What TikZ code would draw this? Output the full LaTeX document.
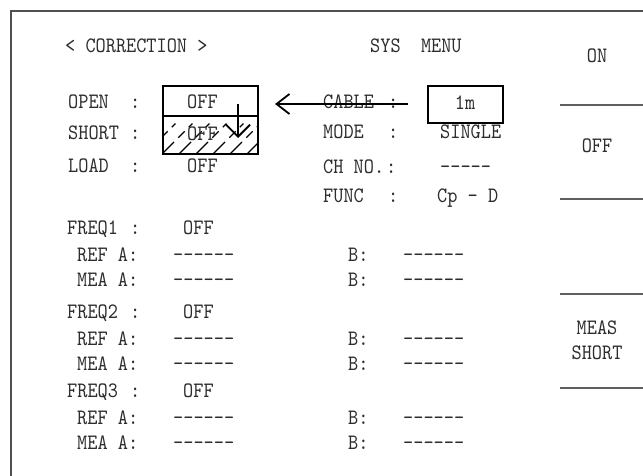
\documentclass[tikz,border=0pt]{standalone}
\usepackage{fontspec}
\usetikzlibrary{arrows.meta}
\newfontfamily\lcdfont[FakeStretch=0.88]{lmmono10-regular.otf}
\definecolor{txtc}{RGB}{45,45,45}
\definecolor{framec}{RGB}{80,80,80}
\definecolor{menuc}{RGB}{95,95,95}
\begin{document}
\begin{tikzpicture}[x=1pt,y=-1pt,
  txt/.style={font=\lcdfont\fontsize{22}{22}\selectfont, text=txtc, inner sep=0pt, anchor=base west},
  ctxt/.style={txt, anchor=base},
  framel/.style={draw=framec, line width=2pt},
  menul/.style={draw=menuc, line width=2.2pt},
  boxl/.style={draw=black, line width=1.5pt},
  hatchl/.style={draw=black, line width=1.1pt, dash pattern=on 17pt off 6pt on 9pt off 6pt on 5pt off 40pt},
  bigarrow/.style={draw=black, line width=1.8pt, -{Straight Barb[length=13pt,width=20pt,line width=1.8pt]}},
  downarrow/.style={draw=black, line width=1.8pt, -{Straight Barb[length=12pt,width=24pt,line width=1.8pt]}}
]
\useasboundingbox (0,0) rectangle (643,476);
\fill[white] (0,0) rectangle (643,476);
% frame
\draw[framel] (11,476) -- (11,11) -- (643,11);
% header
\node[txt] (hcorr) at (65,53) {<~CORRECTION~>};
\node[txt] (hsys) at (370,53) {SYS~~MENU};
% right menu
\node[ctxt] (mon) at (597,63) {ON};
\node[ctxt] (moff) at (597,153) {OFF};
\node[ctxt] (mmeas) at (597,334) {MEAS};
\node[ctxt] (mshort) at (597,359) {SHORT};
\coordinate (l1a) at (560,105); \coordinate (l1b) at (643,105);
\coordinate (l2a) at (560,199); \coordinate (l2b) at (643,199);
\coordinate (l3a) at (560,294); \coordinate (l3b) at (643,294);
\coordinate (l4a) at (560,388); \coordinate (l4b) at (643,388);
\draw[menul] (l1a) -- (l1b);
\draw[menul] (l2a) -- (l2b);
\draw[menul] (l3a) -- (l3b);
\draw[menul] (l4a) -- (l4b);
% open/short box with hatch
\begin{scope}
\clip (163,116) rectangle (258,154);
\foreach \x in {128,145,...,264}{
  \draw[hatchl] (\x,154) -- ++(40,-40);
}
\end{scope}
\node[boxl, minimum width=95pt, minimum height=68pt, inner sep=0pt] (obox) at (210.5,120) {};
\coordinate (midl) at (163,116); \coordinate (midr) at (258,116);
\draw[boxl] (midl) -- (midr);
% left column
\node[txt] (lopen) at (68,109) {OPEN};
\node[txt] (copen) at (130,109) {:};
\node[txt] (vopen) at (187,109) {OFF};
\node[txt] (lshort) at (68,140) {SHORT};
\node[txt] (cshort) at (130,140) {:};
\node[txt] (vshort) at (187,141) {OFF};
\node[txt] (lload) at (68,173) {LOAD};
\node[txt] (cload) at (130,173) {:};
\node[txt] (vload) at (187,173) {OFF};
% right column
\node[txt] (lcable) at (323,109) {CABLE};
\node[txt] (ccable) at (388,109) {:};
\node[boxl, minimum width=75pt, minimum height=37pt, inner sep=0pt] (cbox) at (465.5,104.5) {};
\node[ctxt] (vcable) at (465,110) {1m};
\node[txt] (lmode) at (323,139) {MODE};
\node[txt] (cmode) at (388,139) {:};
\node[txt] (vmode) at (440,139) {SINGLE};
\node[txt] (lch) at (323,174) {CH~NO.};
\node[txt] (cch) at (386,174) {:};
\node[txt] (vch) at (440,174) {-----};
\node[txt] (lfunc) at (323,203) {FUNC};
\node[txt] (cfunc) at (388,203) {:};
\node[txt] (vfunc) at (437,203) {Cp~-~D};
% arrows
\coordinate (arrS) at (408,104);
\coordinate (arrE) at (275,104);
\draw[bigarrow] (arrS) -- (arrE);
\coordinate (dS) at (238,104);
\coordinate (dE) at (238,138);
\draw[downarrow] (dS) -- (dE);
% frequency blocks
\foreach \n/\yf/\yr/\ym in {1/234/261/286, 2/318/345/370, 3/397/424/449}{
  \node[txt] (lf\n) at (67,\yf) {FREQ\n};
  \node[txt] (cf\n) at (130,\yf) {:};
  \node[txt] (vf\n) at (183,\yf) {OFF};
  \node[txt] (lr\n) at (77,\yr) {REF~A:};
  \node[txt] (vr\n) at (173,\yr) {------};
  \node[txt] (br\n) at (348,\yr) {B:};
  \node[txt] (wr\n) at (403,\yr) {------};
  \node[txt] (lm\n) at (77,\ym) {MEA~A:};
  \node[txt] (vm\n) at (173,\ym) {------};
  \node[txt] (bm\n) at (348,\ym) {B:};
  \node[txt] (wm\n) at (403,\ym) {------};
}
\end{tikzpicture}
\end{document}
